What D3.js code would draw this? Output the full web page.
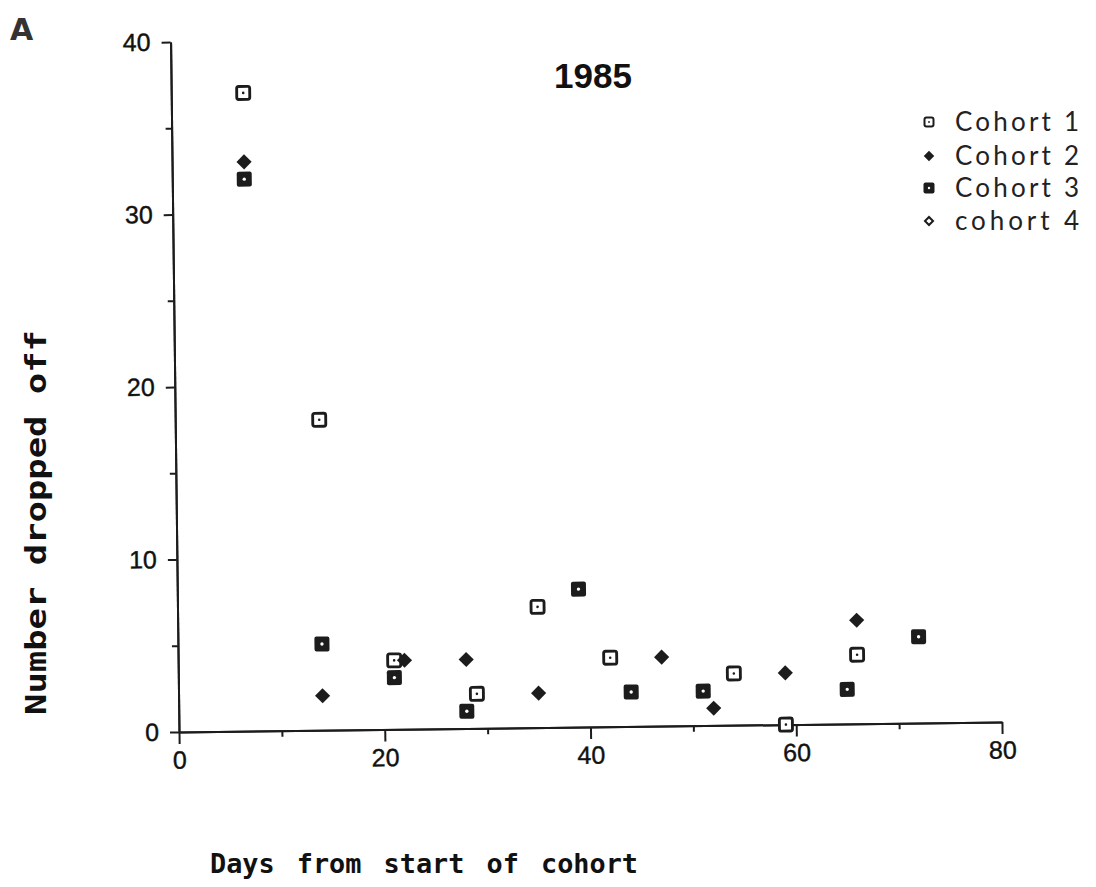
<!DOCTYPE html>
<html>
<head>
<meta charset="utf-8">
<script src="https://cdn.jsdelivr.net/npm/d3@7"></script>
<style>
  body { margin: 0; background: #fff; }
</style>
</head>
<body>
<svg id="chart"></svg>
<script>
// values
const cohort1Days = [7, 14, 21, 29, 35, 42, 54, 59, 66];
const cohort1Counts = [37, 18, 4, 2, 7, 4, 3, 0, 4];
const cohort2Days = [7, 14, 22, 28, 35, 47, 52, 59, 66];
const cohort2Counts = [33, 2, 4, 4, 2, 4, 1, 3, 6];
const cohort3Days = [7, 14, 21, 28, 39, 44, 51, 65, 72];
const cohort3Counts = [32, 5, 3, 1, 8, 2, 2, 2, 5];
const cohort4Days = [];
const cohort4Counts = [];

const seriesNames = ['Cohort 1', 'Cohort 2', 'Cohort 3', 'cohort 4'];
const xMajorTicks = [0, 20, 40, 60, 80];
const xMinorTicks = [10, 30, 50, 70];
const yMajorTicks = [0, 10, 20, 30, 40];
const yMinorTicks = [5, 15, 25, 35];

const W = 1096, H = 887;
const margin = { top: 42, left: 179 };
const width = 823, height = 690;
const ink = '#1c1c1c';

const svg = d3.select('#chart').attr('width', W).attr('height', H);

// the scanned page is slightly rotated, so is the plot
const g = svg.append('g')
  .attr('transform', `translate(${margin.left},${margin.top}) rotate(-0.7, 0, ${height})`);

const x = d3.scaleLinear().domain([0, 80]).range([0, width]);
const y = d3.scaleLinear().domain([0, 40]).range([height, 0]);

function styleAxis(sel) {
  sel.select('.domain').attr('stroke', ink).attr('stroke-width', 2);
  sel.selectAll('.tick line').attr('stroke', ink).attr('stroke-width', 2);
  sel.selectAll('.tick text')
    .attr('fill', '#111')
    .attr('stroke', '#111').attr('stroke-width', 0.4)
    .style('font-family', 'Liberation Sans, Arial, sans-serif')
    .style('font-size', '25px');
}

// x axis
g.append('g')
  .attr('transform', `translate(0,${height})`)
  .call(d3.axisBottom(x).tickValues(xMinorTicks).tickSize(6).tickSizeOuter(0).tickFormat(''))
  .call(styleAxis);
g.append('g')
  .attr('transform', `translate(0,${height})`)
  .call(d3.axisBottom(x).tickValues(xMajorTicks).tickSize(12).tickSizeOuter(0).tickPadding(7))
  .call(styleAxis);

// y axis
g.append('g')
  .call(d3.axisLeft(y).tickValues(yMinorTicks).tickSize(6).tickSizeOuter(0).tickFormat(''))
  .call(styleAxis);
g.append('g')
  .call(d3.axisLeft(y).tickValues(yMajorTicks).tickSize(9).tickSizeOuter(0).tickPadding(11))
  .call(styleAxis);

// marker drawing
function drawMarker(sel, kind, s) {
  if (kind === 'open') {
    sel.append('rect')
      .attr('x', -s / 2).attr('y', -s / 2).attr('width', s).attr('height', s)
      .attr('rx', 2).attr('fill', '#fff').attr('stroke', ink).attr('stroke-width', s * 0.22);
    sel.append('circle').attr('r', s * 0.1).attr('fill', ink);
  } else if (kind === 'filled') {
    sel.append('rect')
      .attr('x', -s / 2 - 1).attr('y', -s / 2 - 1).attr('width', s + 2).attr('height', s + 2)
      .attr('rx', 2).attr('fill', ink);
    sel.append('circle').attr('r', s * 0.13).attr('fill', '#fff');
  } else if (kind === 'diamond') {
    sel.append('path')
      .attr('d', d3.symbol(d3.symbolSquare, s * s * 0.68)())
      .attr('transform', 'rotate(45)')
      .attr('fill', ink);
  } else {
    sel.append('path')
      .attr('d', d3.symbol(d3.symbolSquare, s * s * 0.4)())
      .attr('transform', 'rotate(45)')
      .attr('fill', '#fff').attr('stroke', ink).attr('stroke-width', 2);
  }
}

const series = [
  { days: cohort1Days, counts: cohort1Counts, kind: 'open' },
  { days: cohort2Days, counts: cohort2Counts, kind: 'diamond' },
  { days: cohort3Days, counts: cohort3Counts, kind: 'filled' },
  { days: cohort4Days, counts: cohort4Counts, kind: 'opendiamond' }
];

series.forEach(sr => {
  const pts = sr.days.map((d, i) => ({ day: d, n: sr.counts[i] }));
  g.append('g').selectAll('g')
    .data(pts)
    .enter()
    .append('g')
    .attr('transform', d => `translate(${x(d.day)},${y(d.n)})`)
    .each(function () { drawMarker(d3.select(this), sr.kind, 13); });
});

// title
svg.append('text')
  .attr('x', 593).attr('y', 88)
  .attr('text-anchor', 'middle')
  .style('font-family', 'Liberation Sans, Arial, sans-serif')
  .style('font-weight', 'bold')
  .style('font-size', '35px')
  .attr('fill', '#111')
  .text('1985');

// panel letter
svg.append('text')
  .attr('x', 10).attr('y', 40)
  .style('font-family', 'DejaVu Sans, sans-serif')
  .style('font-weight', 'bold')
  .style('font-size', '30px')
  .attr('fill', '#333')
  .text('A');

// axis titles
svg.append('text')
  .attr('x', 210).attr('y', 873)
  .attr('textLength', 428).attr('lengthAdjust', 'spacingAndGlyphs')
  .style('word-spacing', '6px')
  .style('font-family', 'DejaVu Sans Mono, monospace')
  .style('font-weight', 'bold')
  .style('font-size', '27px')
  .attr('fill', '#111')
  .text('Days from start of cohort');

svg.append('text')
  .attr('transform', 'translate(46,715) rotate(-90)')
  .attr('textLength', 385).attr('lengthAdjust', 'spacingAndGlyphs')
  .style('word-spacing', '0px')
  .style('font-family', 'DejaVu Sans Mono, monospace')
  .style('font-weight', 'bold')
  .style('font-size', '28px')
  .attr('fill', '#111')
  .text('Number dropped off');

// legend
const legendKinds = ['open', 'diamond', 'filled', 'opendiamond'];
const legendY = [122, 156, 188, 221];
const legend = svg.append('g');
seriesNames.forEach((name, i) => {
  const row = legend.append('g').attr('transform', `translate(929,${legendY[i]})`);
  drawMarker(row, legendKinds[i], 9);
  row.append('text')
    .attr('x', 26).attr('y', 9)
    .attr('textLength', 124).attr('lengthAdjust', 'spacing')
    .style('font-family', 'Lato, sans-serif')
    .style('font-weight', '400')
    .style('font-size', '26px')
    .attr('fill', '#222')
    .text(name);
});
</script>
</body>
</html>
